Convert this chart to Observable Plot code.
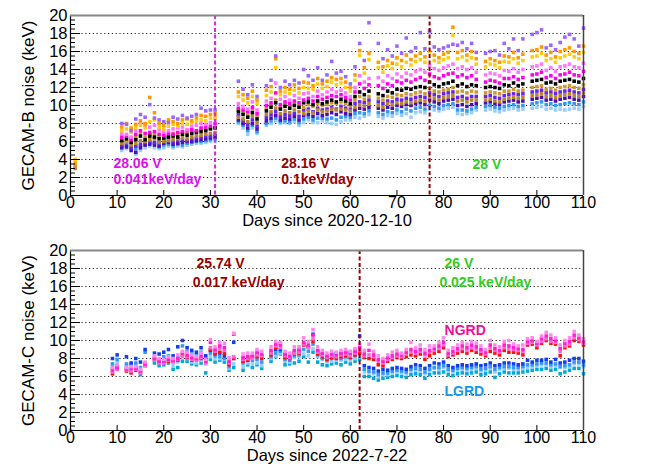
<!DOCTYPE html>
<html><head><meta charset="utf-8">
<script src="https://cdn.jsdelivr.net/npm/d3@7"></script>
<script src="https://cdn.jsdelivr.net/npm/@observablehq/plot@0.6"></script>
<style>
body{margin:0;background:#fff;}
#chart svg{display:block;}
</style></head><body><div id="chart"></div>
<script>
// ---------- GECAM-B (top) ----------
const dayB = [1,11,12,13,14,15,16,17,18,19,20,21,22,23,24,25,26,27,28,29,30,31,36,37,38,39,40,42,43,44,45,46,47,48,49,50,51,52,53,54,55,56,57,58,59,60,61,62,63,64,66,67,68,69,70,71,72,73,74,75,76,77,78,79,80,81,82,83,84,85,86,87,89,90,91,92,93,94,95,96,97,99,100,101,102,103,104,105,106,107,108,109,110];
const purpleB = [null, 8.0,7.9,7.2,8.5,9.0,8.7,10.1,8.6,8.4,8.2,8.1,8.7,8.5,8.9,8.6,8.8,9.0,9.7,9.4,9.5,9.5, 12.7,11.8,11.2,12.3,11.0, 12.2,12.8,15.5,12.0,12.7,12.3,12.8,12.5,14.0,13.3,12.8,14.2,12.8,13.4,14.9,13.6,13.8,13.2,12.4,14.3,16.9,15.0,19.2, 16.9,15.2,16.2,15.5,16.6,15.8,17.5,16.0,16.4,18.1,16.3,18.2,16.5,16.2,16.4,16.6,16.8,16.7,17.0,16.3,16.9,15.9, 15.8,16.0,16.1,15.6,16.9,16.3,17.4,16.1,17.4, 17.9,18.1,18.4,16.4,16.7,16.2,17.0,17.6,17.9,17.4,16.6,18.6];
const orangeB = [3.6, 7.6,8.0,7.5,7.9,8.3,8.0,10.9,9.2,8.0,7.8,8.4,8.2,8.0,8.4,8.5,8.3,8.6,8.9,8.8,9.0,9.1, 11.5,11.2,10.8,11.6,10.6, 11.7,12.1,15.2,11.6,12.0,11.8,12.3,11.9,12.6,12.5,12.2,13.0,12.4,12.7,13.1,12.9,13.0,12.6,12.0,13.4,16.1,14.2,15.8, 14.8,14.3,15.0,14.7,15.3,15.0,15.6,15.1,15.5,15.8,15.4,18.3,15.6,15.3,15.7,15.9,18.7,15.9,16.1,15.6,16.0,15.2, 14.9,15.2,15.0,14.8,15.5,15.4,15.9,15.3,15.7, 16.1,16.2,16.5,15.6,15.9,15.4,16.0,16.2,16.4,16.0,15.8,16.6];
const goldB = [4.0, 7.2,7.4,7.0,7.6,7.8,7.5,8.2,8.4,7.6,7.4,7.7,7.9,7.7,8.0,7.9,8.1,8.2,8.4,8.3,8.6,8.7, 11.0,10.6,10.3,11.0,10.2, 11.1,11.5,14.2,11.2,11.5,11.3,11.7,11.4,12.0,11.9,11.8,12.4,11.9,12.1,12.6,12.3,12.5,12.0,11.6,12.8,15.6,13.6,15.1, 14.2,13.7,14.4,14.1,14.6,14.3,14.8,14.5,14.9,15.1,14.8,16.0,15.0,14.8,15.1,15.3,17.8,15.2,15.4,15.0,15.3,14.6, 14.3,14.6,14.5,14.2,14.9,14.8,15.2,14.7,15.0, 15.4,15.5,15.8,15.0,15.2,14.8,15.3,15.5,15.7,15.4,15.2,15.9];
const pinkB = [null, 6.9,6.8,6.5,7.2,8.0,7.8,7.6,7.8,7.3,7.1,7.2,7.4,7.5,7.6,7.3,7.7,7.8,8.0,7.9,8.1,8.5, 10.2,9.9,9.6,10.4,9.5, 10.5,10.8,12.5,10.7,11.0,10.6,11.1,10.8,11.3,11.4,11.0,11.6,11.2,11.5,11.8,11.5,11.7,11.4,11.0,12.0,13.3,12.6,13.0, 13.1,12.7,13.3,13.0,13.5,13.2,13.6,13.4,13.8,14.0,13.7,14.4,14.1,13.9,14.2,14.4,14.6,14.1,14.3,14.0,14.2,13.7, 13.4,13.6,13.5,13.3,13.9,13.8,14.1,13.7,14.0, 14.3,14.4,14.6,13.9,14.2,13.8,14.3,14.4,14.6,14.3,14.2,14.7];
const magentaB = [null, 6.4,6.6,6.2,6.8,7.2,6.9,7.0,7.1,6.8,6.7,6.9,6.8,7.0,7.1,7.2,7.3,7.2,7.5,7.6,7.7,8.0, 9.7,9.5,9.3,9.8,9.1, 10.0,10.3,11.4,10.1,10.4,10.2,10.5,10.3,10.6,10.8,10.5,11.0,10.7,10.9,11.1,11.0,11.2,10.9,10.6,11.5,12.4,11.9,12.3, 12.2,11.9,12.4,12.2,12.7,12.5,12.8,12.6,12.9,13.1,12.8,13.5,13.2,13.0,13.3,13.5,13.6,13.2,13.4,13.1,13.3,12.9, 12.6,12.8,12.7,12.5,13.0,13.0,13.2,12.9,13.1, 13.4,13.5,13.7,13.1,13.3,13.0,13.4,13.5,13.7,13.4,13.3,13.8];
const blackB = [null, 6.1,6.3,5.9,6.2,6.6,6.2,6.6,6.5,6.3,6.4,6.5,6.6,6.5,6.8,6.7,6.9,7.0,7.1,7.2,7.4,7.5, 9.3,9.0,8.7,9.2,8.5, 9.4,9.8,10.3,9.6,9.9,9.7,10.0,9.8,10.3,10.4,10.1,10.5,10.2,10.4,10.6,10.4,10.7,10.5,10.2,11.0,11.5,11.2,11.6, 11.3,11.1,11.6,11.4,11.8,11.7,11.9,11.8,12.0,12.1,12.0,12.6,12.3,12.1,12.4,12.5,12.7,12.2,12.4,12.1,12.3,12.2, 12.0,12.1,12.0,11.9,12.3,12.2,12.5,12.2,12.4, 12.7,12.8,12.9,12.5,12.6,12.4,12.7,12.8,12.9,12.7,12.6,13.0];
const darkgoldB = [3.3, 6.6,6.1,6.4,6.5,6.9,6.5,6.8,6.9,6.6,6.6,6.7,6.9,6.8,7.0,6.9,7.1,7.2,7.4,7.3,7.5,7.6, 9.5,9.2,8.9,9.5,8.8, 9.7,10.0,10.6,9.8,10.1,9.9,10.2,10.0,9.8,10.1,9.9,10.2,10.0,10.1,10.3,10.2,10.4,10.2,10.0,10.6,11.0,10.7,11.0, 10.8,10.6,11.0,10.9,11.2,11.1,11.3,11.2,11.4,11.5,11.3,11.9,11.6,11.5,11.7,11.8,12.0,11.5,11.6,11.4,11.6,11.5, 11.4,11.5,11.4,11.3,11.6,11.6,11.8,11.6,11.7, 12.0,12.1,12.2,11.8,11.9,11.7,12.0,12.1,12.2,12.0,11.9,12.3];
const brownB = [3.0, 5.8,5.9,5.6,5.8,6.1,6.0,6.2,6.3,5.9,6.0,6.1,6.2,6.3,6.4,6.3,6.5,6.6,6.7,6.8,6.9,7.0, 8.7,8.5,8.2,8.8,8.1, 9.0,9.3,9.7,9.1,9.4,9.2,9.5,9.3,9.1,9.4,9.2,9.5,9.3,9.4,9.6,9.5,9.6,9.5,9.4,9.8,10.1,9.9,10.2, 10.0,9.8,10.2,10.1,10.3,10.2,10.4,10.3,10.5,10.6,10.5,11.0,10.8,10.6,10.9,11.0,11.1,10.5,10.6,10.4,10.6,10.6, 10.6,10.7,10.5,10.4,10.7,10.8,10.9,10.8,10.9, 11.1,11.2,11.3,11.0,11.1,10.9,11.1,11.2,11.3,11.1,11.0,11.4];
const violetB = [null, 5.6,5.8,5.3,5.5,5.7,5.9,6.0,5.9,5.8,6.2,6.3,6.0,6.1,6.2,6.1,6.3,6.4,6.5,6.6,6.6,6.8, 8.9,8.3,7.9,8.4,7.7, 8.7,9.0,9.3,8.8,9.0,8.9,9.1,8.8,9.5,9.6,9.3,9.7,9.5,9.6,9.8,9.6,9.9,9.7,9.6,10.2,10.4,10.3,10.6, 10.4,10.2,10.5,10.4,10.7,10.6,10.8,10.7,10.9,11.0,10.9,11.4,11.2,11.0,11.3,11.4,11.5,10.9,11.0,10.8,11.0,11.0, 11.0,11.1,10.9,10.8,11.1,11.2,11.3,11.2,11.3, 11.5,11.6,11.7,11.4,11.5,11.3,11.5,11.6,11.7,11.5,11.4,11.8];
const indigoB = [null, 5.3,5.4,5.0,4.8,5.3,5.6,5.7,5.6,5.5,5.8,5.9,5.7,5.8,5.9,6.0,6.0,6.1,6.2,6.3,6.4,6.5, 8.4,8.0,7.5,8.0,7.4, 8.3,8.6,8.9,8.4,8.6,8.5,8.8,8.4,8.9,9.0,8.8,9.1,8.9,9.0,9.2,9.0,9.3,9.1,9.0,9.5,9.7,9.6,9.8, 9.7,9.5,9.8,9.7,10.0,9.9,10.1,10.0,10.2,10.3,10.1,10.6,10.4,10.2,10.5,10.6,10.7,10.0,10.1,9.9,10.1,10.2, 10.3,10.4,10.2,10.1,10.4,10.5,10.6,10.4,10.5, 10.7,10.8,10.9,10.6,10.7,10.5,10.7,10.8,10.9,10.7,10.6,11.0];
const skyB = [null, 5.5,5.6,5.4,5.2,5.5,5.7,5.9,5.8,5.4,5.6,5.7,5.5,5.7,5.6,5.8,5.9,6.0,6.0,6.1,6.2,6.3, 8.2,7.8,7.2,7.8,7.1, 8.0,8.3,8.6,8.2,8.3,8.2,8.5,8.1,8.5,8.7,8.4,8.6,8.6,8.5,8.6,8.4,8.7,8.8,8.7,9.1,9.2,9.1,9.4, 9.2,9.0,9.3,9.2,9.5,9.3,9.6,9.4,9.7,9.8,9.6,10.0,9.9,9.7,10.0,10.1,10.2,9.5,9.5,9.4,9.6,9.8, 9.9,10.0,9.8,9.7,9.9,10.0,10.1,9.9,10.0, 10.2,10.3,10.4,10.1,10.2,10.0,10.1,10.2,10.3,10.2,10.1,10.4];
const lightB = [null, 5.0,5.2,5.1,4.6,5.0,5.3,5.5,5.3,5.2,5.3,5.5,5.3,5.5,5.4,5.6,5.7,5.8,5.8,5.9,6.0,6.0, 8.0,7.5,6.8,7.5,6.9, 7.8,8.0,8.3,8.0,8.1,8.0,8.2,7.8,8.1,8.4,8.1,8.1,8.3,8.1,8.0,7.9,8.2,8.4,8.4,8.7,8.6,8.8,9.0, 8.8,8.6,8.9,8.8,9.1,8.9,9.1,8.7,9.2,9.3,9.2,9.6,9.5,9.4,9.6,9.7,9.8,9.1,9.0,9.1,9.2,9.5, 9.5,9.6,9.4,9.3,9.5,9.6,9.7,9.5,9.6, 9.7,9.8,9.9,9.6,9.7,9.5,9.6,9.5,9.6,9.7,9.6,9.9];
const changeDaysB = [31, 77];
const labelsB = ["28.06 V", "0.041keV/day", "28.16 V", "0.1keV/day", "28 V"];

// ---------- GECAM-C (bottom) ----------
const dayC = [9,10,12,13,14,15,16,18,19,20,21,22,23,24,25,26,27,28,29,30,31,32,33,34,35,37,38,39,40,41,43,44,45,46,47,48,49,50,51,52,53,54,55,56,57,58,59,60,61,62,63,64,65,66,67,68,69,70,71,72,73,74,75,76,77,78,79,80,81,82,83,84,85,86,87,88,89,90,91,92,93,94,95,96,97,98,99,100,101,102,103,104,105,106,107,108,109,110];
const ngrdPinkC = [7.0,7.3,7.0,7.1,7.1,6.8,7.6, 8.3,8.0,7.9,8.2,8.0,8.4,8.8,8.7,8.4,8.2,8.6,7.9,10.1,9.3,9.8,9.7,8.1,10.8, 8.5,8.6,8.6,9.0,8.8, 9.3,9.9,9.8,8.8,8.6,9.3,9.3,10.3,9.9,11.2,9.3,8.9,8.6,8.8,8.7,8.9,9.0,8.8,9.1,9.6, 8.9,9.6,8.8,8.3,8.0,8.4,8.7,8.9,8.6,9.0,9.8,9.2,9.5,9.0,9.4,9.4,9.8,10.3, 8.9,9.2,9.5,9.8,9.6,9.9,9.7,9.4,9.0,10.0,9.5,9.3,9.9,10.0,9.6,9.4,9.5, 10.2,10.3,9.9,10.5,10.9,10.6,10.3,9.5,10.0,10.3,11.0,10.6,10.2];
const ngrdMagentaC = [6.7,7.0,6.8,6.9,6.9,6.6,7.4, 8.0,7.7,7.7,7.9,7.8,8.0,8.6,8.4,8.1,8.0,8.3,7.7,9.8,9.0,9.4,9.2,7.7,10.7, 8.1,8.2,8.3,8.7,8.5, 8.9,9.6,9.5,8.5,8.3,8.9,9.0,9.8,9.5,10.6,8.9,8.6,8.3,8.5,8.4,8.6,8.7,8.6,8.8,9.2, 8.5,8.9,8.4,7.9,7.7,8.1,8.3,8.5,8.4,8.7,9.0,8.8,9.0,8.6,8.9,9.1,9.4,9.8, 8.6,8.8,9.1,9.4,9.2,9.5,9.3,9.0,8.7,9.5,9.1,8.9,9.5,9.4,9.2,9.1,9.0, 9.9,10.0,9.7,10.2,10.5,10.2,10.0,9.1,9.7,9.9,10.6,10.3,9.9];
const ngrdRoseC = [6.5,6.8,6.7,6.6,6.8,6.4,7.2, 7.8,7.5,7.5,7.8,7.6,7.9,8.2,8.2,7.9,7.8,8.1,7.5,9.2,8.8,9.1,8.9,7.5,8.2, 7.9,8.0,8.0,8.4,8.3, 8.6,9.4,9.2,8.3,8.1,8.6,8.7,9.6,9.2,10.2,8.7,8.4,8.1,8.3,8.2,8.4,8.5,8.3,8.6,8.9, 8.3,8.4,8.2,7.7,7.5,7.9,8.1,8.3,8.2,8.5,8.7,8.6,8.8,8.4,8.7,8.9,9.1,9.5, 8.4,8.6,8.9,9.1,8.9,9.2,9.0,8.8,8.5,9.2,8.9,8.7,9.2,9.1,9.0,8.9,8.8, 9.7,9.8,9.5,9.9,10.2,9.9,9.8,8.8,9.4,9.6,10.3,10.1,9.7];
const ngrdRedC = [6.3,6.9,6.6,6.4,6.7,6.5,7.3, 7.9,7.6,7.6,7.7,7.7,7.8,8.4,8.1,7.8,7.9,8.0,7.6,9.0,8.5,8.7,8.6,7.3,8.0, 7.7,7.8,8.1,8.2,8.0, 8.4,9.2,9.7,8.1,8.0,8.5,8.6,9.5,9.3,9.9,8.5,8.2,7.9,8.1,8.0,8.2,8.3,8.1,8.4,8.6, 8.1,8.0,7.9,7.3,7.2,7.7,7.9,8.1,8.0,8.2,8.4,8.3,8.5,7.9,8.3,8.6,8.8,9.2, 8.2,8.4,8.6,8.8,8.6,8.9,8.7,8.5,8.3,8.8,8.6,8.4,8.9,8.7,8.7,8.6,8.4, 9.5,9.6,9.2,9.7,10.0,9.7,9.6,8.3,9.2,9.4,10.0,9.9,9.5];
const lgrdBlueC = [8.0,8.4,8.2,7.5,8.0,7.6,9.0, 8.6,8.5,8.7,9.0,8.3,9.3,10.0,9.2,8.9,8.7,9.2,8.3,8.9,8.7,8.6,8.3,7.5,9.8, 8.0,8.1,8.2,8.5,8.3, 8.7,9.0,9.0,8.4,8.1,8.7,8.8,9.6,9.3,10.7,8.8,8.5,8.1,8.4,8.6,8.5,8.7,8.6,8.9,10.5, 7.2,7.0,6.9,6.6,6.8,6.7,6.9,7.0,6.9,6.8,7.1,7.3,7.2,6.9,7.2,7.5,7.4,7.6, 7.2,7.0,7.2,7.3,7.2,7.3,7.4,7.2,7.3,7.5,7.2,7.3,7.5,7.5,7.4,7.3,7.4, 7.8,7.6,7.8,7.8,7.9,7.6,7.9,7.5,7.6,7.8,8.0,8.0,7.7];
const lgrdSkyC = [7.4,7.9,7.4,7.3,7.5,7.0,8.7, 8.2,7.8,8.2,8.3,7.7,8.1,9.4,8.8,8.5,8.4,8.7,8.0,8.6,8.3,8.2,8.0,7.1,8.0, 7.5,7.8,7.8,7.9,7.6, 8.2,8.6,8.8,7.9,7.8,8.3,8.4,9.0,8.8,9.6,8.4,8.0,7.8,8.0,8.1,8.0,8.2,8.1,8.3,8.7, 6.8,6.6,6.5,6.2,6.4,6.4,6.6,6.7,6.6,6.5,6.8,6.9,6.8,6.5,6.8,7.0,7.0,7.2, 6.8,6.7,6.9,7.0,6.9,7.0,7.1,6.8,6.9,7.1,6.8,7.0,7.1,7.1,7.0,7.0,7.1, 7.3,7.3,7.4,7.5,7.5,7.3,7.4,7.1,7.2,7.3,7.6,7.6,7.3];
const lgrdLightC = [7.2,7.6,7.2,6.9,7.3,6.7,7.5, 7.9,7.6,7.6,7.9,7.2,7.6,8.4,8.0,7.6,7.5,7.8,7.4,8.2,8.0,8.0,7.9,6.9,7.4, 7.1,7.5,7.4,7.5,7.2, 8.0,8.3,8.6,7.7,7.6,8.1,8.2,8.5,8.3,9.1,8.2,7.9,7.6,7.7,7.8,7.8,7.9,7.8,8.0,8.2, 6.5,6.4,6.3,6.0,6.2,6.2,6.4,6.5,6.4,6.3,6.6,6.7,6.6,6.3,6.6,6.9,6.8,7.0, 6.6,6.5,6.7,6.8,6.7,6.8,6.9,6.6,6.7,6.9,6.5,6.8,6.9,6.9,6.8,6.8,6.9, 7.0,7.1,7.2,7.3,7.3,7.1,7.2,7.0,7.0,7.1,7.4,7.4,7.1];
const lgrdCyanC = [6.9,7.2,6.9,6.7,7.0,6.2,7.2, 7.5,7.2,7.3,7.5,6.8,7.0,7.7,7.7,7.4,7.3,7.5,6.4,7.9,7.6,7.8,7.6,6.7,7.0, 6.7,7.3,7.0,7.3,6.9, 7.7,8.2,8.5,7.3,7.4,7.5,7.7,8.2,7.6,8.7,7.6,7.3,7.2,7.4,7.5,7.3,7.6,7.4,7.7,7.9, 6.0,6.0,5.8,5.6,5.8,5.9,6.0,6.1,6.0,5.9,6.2,6.3,6.2,5.8,6.2,6.4,6.4,6.5, 6.2,6.1,6.3,6.4,6.3,6.4,6.5,6.2,6.3,6.5,5.9,6.3,6.5,6.4,6.4,6.4,6.5, 6.6,6.7,6.8,6.8,6.9,6.7,6.8,6.3,6.5,6.7,6.9,6.9,6.3];
const originDayC = [0];
const originValC = [0];
const changeDaysC = [62];
const labelsC = ["25.74 V", "0.017 keV/day", "26 V", "0.025 keV/day", "NGRD", "LGRD"];

// ---------- axes ----------
const xTicks = [0,10,20,30,40,50,60,70,80,90,100,110];
const yTicks = [0,2,4,6,8,10,12,14,16,18,20];
const yMinor = [0.5,1,1.5,2.5,3,3.5,4.5,5,5.5,6.5,7,7.5,8.5,9,9.5,10.5,11,11.5,12.5,13,13.5,14.5,15,15.5,16.5,17,17.5,18.5,19,19.5];
const yGrid = [2,4,6,8,10,12,14,16,18];

const FONT = "'Liberation Sans', Arial, Helvetica, sans-serif";
const ML = 70, MR = 71, W = 654 - ML - MR, H = 180;

function rowsOf(days, values) {
  return days.map((d, i) => ({day: d, v: values[i]})).filter(r => r.v != null);
}

function panel({height, marginTop, days, series, xLabel, yLabel, extra}) {
  return Plot.plot({
    width: 654, height, marginLeft: ML, marginRight: MR, marginTop,
    marginBottom: height - marginTop - H,
    style: {fontFamily: FONT, background: "#fff", overflow: "visible", color: "#000"},
    x: {domain: [0, 110], axis: null},
    y: {domain: [0, 20], axis: null},
    marks: [
      Plot.ruleY(yGrid, {stroke: "#000", strokeWidth: 1, strokeDasharray: "1.2,2.6", strokeOpacity: 0.85}),
      ...series.map(s => Plot.dot(rowsOf(days, s.values), {x: "day", y: "v", fill: s.color, symbol: "square", r: 2})),
      ...extra,
      Plot.tickY(yTicks, {y: d => d, stroke: "#000", insetRight: W - 10}),
      Plot.tickY(yMinor, {y: d => d, stroke: "#000", insetRight: W - 5}),
      Plot.tickX(xTicks, {x: d => d, stroke: "#000", insetTop: H - 5}),
      Plot.ruleX([0], {stroke: "#000", strokeWidth: 1.2}),
      Plot.ruleY([0], {stroke: "#000", strokeWidth: 1.2}),
      Plot.ruleY([20], {stroke: "#888", strokeWidth: 2}),
      Plot.ruleX([110], {stroke: "#444", strokeWidth: 1.5}),
      Plot.text(xTicks, {x: d => d, frameAnchor: "bottom", textAnchor: "middle", lineAnchor: "top", dy: 1.5, fontSize: 16, fill: "#000"}),
      Plot.text(yTicks, {y: d => d, frameAnchor: "left", textAnchor: "end", dx: -3, fontSize: 16.5, fill: "#000"}),
      Plot.text([xLabel], {frameAnchor: "bottom", textAnchor: "middle", lineAnchor: "middle", dy: 25.5, fontSize: 16.5, fill: "#000"}),
      Plot.text([yLabel], {frameAnchor: "left", textAnchor: "middle", rotate: -90, dx: -42, lineAnchor: "middle", fontSize: 17, fill: "#000"})
    ]
  });
}

const ann = {fontSize: 14, fontWeight: "bold", textAnchor: "start", lineAnchor: "middle"};

const topChart = panel({
  height: 232, marginTop: 15, days: dayB,
  xLabel: "Days since 2020-12-10", yLabel: "GECAM-B noise (keV)",
  series: [
    {values: lightB, color: "#99ccff"},
    {values: skyB, color: "#3399ee"},
    {values: indigoB, color: "#4a10b0"},
    {values: violetB, color: "#6a22ee"},
    {values: brownB, color: "#b8862e"},
    {values: darkgoldB, color: "#cc9933"},
    {values: blackB, color: "#000000"},
    {values: magentaB, color: "#ff00ee"},
    {values: pinkB, color: "#ff77ff"},
    {values: goldB, color: "#ffcc11"},
    {values: orangeB, color: "#ff9900"},
    {values: purpleB, color: "#9966ff"}
  ],
  extra: [
    Plot.ruleX([changeDaysB[0]], {stroke: "#dd22ee", strokeWidth: 2, strokeDasharray: "4,2.5"}),
    Plot.ruleX([changeDaysB[1]], {stroke: "#990000", strokeWidth: 2, strokeDasharray: "4,2.5"}),
    Plot.text([labelsB[0]], {...ann, x: 9.2, y: 3.56, fill: "#dd11ee"}),
    Plot.text([labelsB[1]], {...ann, x: 9.2, y: 1.75, fill: "#dd11ee"}),
    Plot.text([labelsB[2]], {...ann, x: 45.2, y: 3.56, fill: "#990000"}),
    Plot.text([labelsB[3]], {...ann, x: 45.2, y: 1.75, fill: "#990000"}),
    Plot.text([labelsB[4]], {...ann, x: 86.2, y: 3.45, fill: "#33cc22"})
  ]
});

const bottomChart = panel({
  height: 237, marginTop: 18, days: dayC,
  xLabel: "Days since 2022-7-22", yLabel: "GECAM-C noise (keV)",
  series: [
    {values: lgrdCyanC, color: "#00aadd"},
    {values: lgrdLightC, color: "#99ccff"},
    {values: lgrdSkyC, color: "#3399ff"},
    {values: lgrdBlueC, color: "#1040ee"},
    {values: ngrdRedC, color: "#ff1010"},
    {values: ngrdRoseC, color: "#ff66dd"},
    {values: ngrdMagentaC, color: "#ff22cc"},
    {values: ngrdPinkC, color: "#ff88f0"}
  ],
  extra: [
    Plot.dot(rowsOf(originDayC, originValC), {x: "day", y: "v", fill: "#cc9933", symbol: "square", r: 2}),
    Plot.ruleX([changeDaysC[0]], {stroke: "#990000", strokeWidth: 2, strokeDasharray: "4,2.5"}),
    Plot.text([labelsC[0]], {...ann, x: 27.0, y: 18.55, fill: "#990000"}),
    Plot.text([labelsC[1]], {...ann, x: 26.2, y: 16.45, fill: "#990000"}),
    Plot.text([labelsC[2]], {...ann, x: 80.2, y: 18.55, fill: "#33cc22"}),
    Plot.text([labelsC[3]], {...ann, x: 79.1, y: 16.45, fill: "#33cc22"}),
    Plot.text([labelsC[4]], {...ann, x: 80.2, y: 11.1, fill: "#ee1199"}),
    Plot.text([labelsC[5]], {...ann, x: 80.2, y: 4.35, fill: "#1199ee"})
  ]
});

document.getElementById("chart").append(topChart, bottomChart);
</script></body></html>
